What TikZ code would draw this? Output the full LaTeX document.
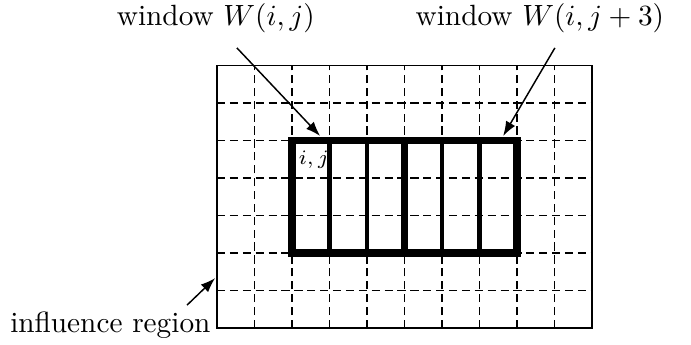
\documentclass[tikz,border=0pt]{standalone}
\usepackage{amsmath,amssymb}
\usetikzlibrary{
  arrows.meta,
  positioning
}

\begin{document}
\begin{tikzpicture}[
  x=0.45cm, y=0.45cm,
  >={Latex[length=5pt,width=3.6pt]},
  line cap=butt,
  line join=miter,
  region/.style={
    draw,
    line width=0.5pt
  },
  gridline/.style={
    draw,
    line width=0.5pt,
    dash pattern=on 2.8pt off 1.6pt
  },
  winbox/.style={
    draw,
    line width=2.4pt
  },
  divider/.style={
    draw,
    line width=1.5pt
  },
  pointer/.style={
    ->,
    line width=0.5pt
  },
  lab/.style={
    inner sep=1pt
  }
]

% Fixed frame
\useasboundingbox (-5.787,-0.427) rectangle (12.64,8.747);

% Influence region with dashed grid
\foreach \c in {1,...,9}
  \draw[gridline] (\c,0) -- (\c,7);
\foreach \r in {1,...,6}
  \draw[gridline] (0,\r) -- (10,\r);
\draw[region] (0,0) rectangle (10,7);

% Windows
\foreach \c in {3,4,6,7}
  \draw[divider] (\c,2) -- (\c,5);
\draw[winbox] (2,2) rectangle (5,5);
\draw[winbox] (5,2) rectangle (8,5);
\node[font=\scriptsize, anchor=north west, inner sep=1pt] (ij) at (2.08,4.82) {$i,j$};

% Arrow targets
\coordinate (wa) at (2.75,5.12);
\coordinate (wb) at (7.63,5.12);
\coordinate (rg) at (-0.05,1.33);

% Labels
\node[lab, anchor=base] (wla) at (-0.03,8.08) {window $W(i,j)$};
\node[lab, anchor=base] (wlb) at (8.61,8.08) {window $W(i,j+3)$};
\node[lab, anchor=base east] (rla) at (-0.08,-0.13) {influence region};

% Pointers
\draw[pointer] (0.53,7.47) -- (wa);
\draw[pointer] (9.01,7.47) -- (wb);
\draw[pointer] (-0.8,0.61) -- (rg);

\end{tikzpicture}
\end{document}
